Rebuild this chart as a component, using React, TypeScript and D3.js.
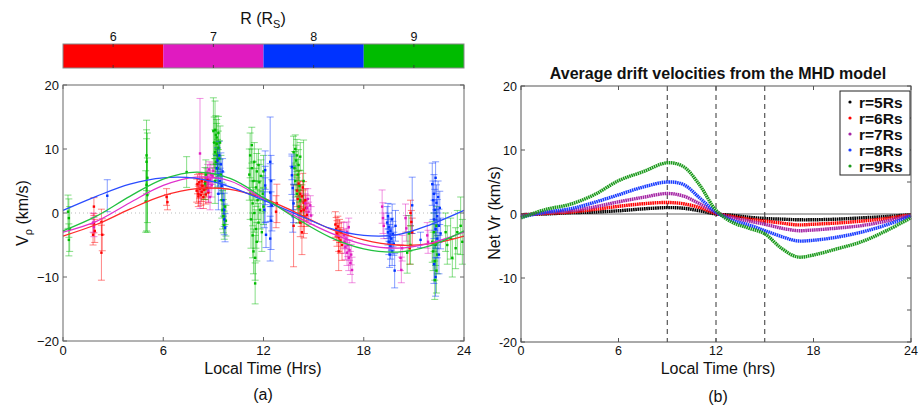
import React from 'react';
import * as d3 from 'd3';

// ---------- Panel (a) data ----------
const R_VALUES = [6, 7, 8, 9];
const R_COLORS = ['#ff0000', '#e01bc0', '#0033ff', '#00bb00'];
const R_FIT_COLORS = ['#ff2a2a', '#e030cc', '#2a4cff', '#22c040'];

const X_TICKS = [0, 6, 12, 18, 24];
const Y_TICKS = [-20, -10, 0, 10, 20];

// fitted curves (every 2 h)
const FIT_T = [0, 2, 4, 6, 8, 10, 12, 14, 16, 18, 20, 22, 24];
const FIT_R6 = [-3.6, -1.8, 0.6, 2.7, 3.8, 3.7, 2.3, 0.0, -2.5, -4.2, -5.0, -4.8, -3.6];
const FIT_R7 = [-3.0, -1.3, 1.6, 4.3, 5.6, 5.0, 2.2, -0.6, -3.1, -4.9, -5.5, -4.7, -3.0];
const FIT_R8 = [0.4, 2.6, 4.5, 5.5, 5.4, 4.1, 2.0, -0.2, -2.4, -3.5, -3.4, -1.8, 0.4];
const FIT_R9 = [-2.8, -0.5, 2.6, 5.3, 6.4, 5.4, 2.4, -0.9, -3.8, -5.6, -6.1, -5.1, -2.8];

// observations: [local time, V, error half-length]
const OBS_R6: [number, number, number][] = [
  [1.85, 1.0, 1.4], [1.85, -1.6, 1.5], [1.9, -2.8, 1.8], [1.8, -3.4, 1.6],
  [2.3, -1.4, 2.0], [2.35, -3.4, 2.5], [2.3, -6.2, 4.3],
  [6.2, 2.5, 1.3], [6.25, 1.7, 1.2],
  [8.0, 3.5, 1.8], [8.05, 4.5, 1.5], [8.1, 3.0, 1.5], [8.1, 2.6, 1.6], [8.15, 4.8, 1.4], [8.2, 3.8, 1.5],
  [8.25, 2.8, 1.6], [8.3, 5.0, 1.2], [8.3, 3.3, 1.5], [8.35, 4.2, 1.3], [8.4, 2.5, 1.8], [8.45, 3.6, 1.5],
  [8.5, 4.8, 1.2], [8.55, 2.9, 1.5], [8.6, 3.9, 1.4], [8.65, 5.2, 1.1], [8.7, 3.2, 1.6],
  [12.8, 1.5, 3.0], [12.75, 0.2, 2.5],
  [13.8, -2.0, 6.4],
  [14.0, 3.5, 2.5], [14.05, 2.2, 2.2], [14.1, 4.6, 2.0], [14.15, 1.0, 2.5], [14.2, 3.0, 2.0], [14.25, 0.3, 2.4],
  [14.3, 2.6, 1.8], [14.35, 4.0, 2.2], [14.4, 1.6, 2.0], [14.45, -0.6, 2.6], [14.5, 2.0, 1.8], [14.55, 0.8, 2.0],
  [14.6, -0.3, 1.8], [14.2, -1.5, 2.2], [14.3, -3.0, 3.5], [14.4, 0.5, 4.4],
  [16.3, -1.8, 2.0], [16.35, -2.5, 1.8], [16.4, -3.2, 2.0], [16.45, -2.1, 1.6], [16.5, -3.8, 2.2],
  [16.55, -2.8, 1.8], [16.6, -4.3, 2.0], [16.65, -3.0, 1.6], [16.7, -5.0, 2.4], [16.5, -6.0, 3.0],
  [20.8, 0.0, 2.0], [20.85, -1.4, 1.8], [20.9, -3.0, 2.2], [20.75, -5.5, 2.5],
];

const OBS_R7: [number, number, number][] = [
  [1.8, -1.5, 1.5], [1.85, -2.2, 1.5],
  [8.2, 9.3, 8.6],
  [8.6, 5.5, 1.5], [8.65, 6.3, 1.3], [8.7, 4.8, 1.6], [8.75, 6.8, 1.2], [8.8, 5.2, 1.4], [8.85, 6.0, 1.5],
  [8.9, 4.3, 1.8], [8.95, 5.8, 1.3], [9.0, 6.6, 1.2], [8.7, 3.5, 1.8], [8.8, 2.5, 2.0],
  [14.5, 1.5, 1.5], [14.6, 0.8, 1.4], [14.65, 2.2, 1.6], [14.7, 0.2, 1.5], [14.8, 1.2, 1.5], [14.85, -0.4, 1.4],
  [16.8, -3.5, 2.0], [16.85, -4.5, 1.8], [16.9, -5.3, 2.0], [16.95, -4.0, 1.6], [17.0, -6.2, 2.0],
  [17.05, -5.0, 1.8], [17.1, -7.0, 2.0], [17.15, -5.8, 1.6], [17.2, -7.8, 1.8], [17.25, -6.5, 1.6],
  [17.3, -8.9, 2.0], [17.0, -3.0, 1.6], [17.1, -2.2, 1.4],
  [19.1, 1.0, 2.6], [19.15, -0.8, 2.4], [19.2, -2.0, 2.0],
  [20.2, -7.0, 2.0], [20.25, -8.9, 2.0], [20.3, -5.5, 2.0],
  [20.5, -0.8, 2.2], [20.55, -2.4, 2.0],
  [21.8, -3.5, 2.0], [21.85, -4.5, 1.8],
];

const OBS_R8: [number, number, number][] = [
  [2.65, 2.7, 2.5],
  [9.2, 7.0, 2.0], [9.25, 8.2, 2.0], [9.3, 6.0, 1.8], [9.35, 9.0, 2.2], [9.4, 5.0, 2.0], [9.45, 7.6, 1.8],
  [9.5, 4.2, 2.2], [9.55, 6.5, 2.0], [9.3, 3.0, 2.5], [9.6, 2.0, 2.5], [9.65, 0.5, 2.6], [9.7, -2.3, 2.2],
  [9.65, -1.0, 2.4],
  [12.1, 6.7, 3.0], [12.1, 2.0, 3.5], [12.15, -3.4, 2.0], [12.05, 0.5, 2.8], [12.1, 4.3, 3.0],
  [12.4, 8.0, 7.0], [12.45, 5.0, 4.0], [12.4, 3.2, 4.5], [12.5, 1.2, 4.0], [12.45, -1.2, 4.5], [12.4, -4.0, 3.5],
  [13.7, 5.9, 3.0], [13.75, 3.9, 3.4], [13.7, 7.2, 2.0], [13.8, 1.5, 3.0], [13.75, -0.5, 2.5],
  [19.4, -1.5, 2.5], [19.45, -3.0, 2.0], [19.5, -2.2, 2.2], [19.5, -4.5, 2.0], [19.55, -3.6, 1.8],
  [19.6, -5.2, 2.0], [19.6, -2.8, 2.0], [19.65, -4.0, 1.8], [19.7, -6.0, 2.2], [19.7, -1.0, 2.4],
  [19.75, -3.3, 2.0], [19.8, -4.8, 1.8], [19.85, -9.0, 2.7], [19.9, -2.0, 2.4], [19.55, -6.5, 2.0],
  [19.45, -0.5, 2.0],
  [20.9, 1.2, 4.4], [21.4, -4.2, 1.2],
  [22.1, 4.5, 3.3], [22.15, 2.0, 3.0], [22.2, -1.0, 3.0], [22.2, 3.0, 3.0], [22.25, 0.5, 3.2],
  [22.3, -2.5, 3.0], [22.3, 5.5, 2.5], [22.35, 1.6, 2.8], [22.4, -4.0, 3.0], [22.4, -0.5, 2.6],
  [22.45, 2.5, 2.5], [22.5, -6.5, 3.0], [22.5, -2.0, 2.6], [22.55, 0.8, 2.6], [22.2, -8.0, 3.0],
  [22.6, -3.2, 2.4], [22.3, -10.0, 3.0],
];

const OBS_R9: [number, number, number][] = [
  [0.3, 0.2, 2.6], [0.35, -0.8, 3.0], [0.4, -2.5, 3.5], [0.35, -4.2, 2.5],
  [5.0, 9.0, 5.5], [5.0, 8.0, 5.0], [5.05, 5.5, 7.0], [5.0, 4.4, 7.2], [5.05, 2.8, 5.8], [4.95, 1.8, 4.8],
  [7.4, 6.4, 2.4], [8.55, 6.0, 2.3], [8.5, 4.6, 2.5],
  [9.0, 12.8, 5.2], [9.05, 11.0, 4.0], [9.1, 13.0, 4.5], [9.1, 9.5, 3.5], [9.15, 12.2, 3.0], [9.15, 8.0, 3.0],
  [9.2, 10.8, 3.2], [9.2, 11.8, 2.8], [9.25, 9.0, 2.5], [9.25, 7.0, 3.0], [9.3, 10.2, 2.6], [9.3, 12.5, 2.6],
  [9.35, 8.5, 2.8], [9.4, 11.0, 2.6], [9.45, 6.0, 3.0], [9.1, 5.0, 3.5],
  [9.5, 2.0, 2.8], [9.55, 0.5, 3.0], [9.6, -0.5, 2.6], [9.65, -1.9, 2.2], [9.7, 1.0, 2.8], [9.75, -1.2, 2.4],
  [11.15, 6.0, 4.0], [11.2, 9.0, 3.5], [11.2, 3.0, 4.0], [11.25, -1.0, 4.5], [11.3, 10.6, 2.8], [11.3, 7.0, 3.0],
  [11.35, 1.5, 3.5], [11.35, -3.5, 3.5], [11.4, 5.0, 3.0], [11.4, -6.0, 3.5], [11.45, 8.0, 3.0], [11.45, 0.0, 3.0],
  [11.5, -7.0, 3.5], [11.5, -11.0, 3.2], [11.55, 4.0, 3.0], [11.55, -2.5, 3.0], [11.6, 6.5, 2.8], [11.6, -4.5, 3.0],
  [11.65, 2.0, 3.0], [11.7, 7.5, 2.5], [11.7, -1.5, 3.0], [11.75, 4.8, 2.8], [11.8, 0.5, 3.0], [11.85, 5.8, 2.5],
  [11.9, -3.0, 3.0], [11.95, 3.0, 2.8], [12.0, 6.5, 2.5], [12.0, 1.0, 2.8],
  [13.8, 9.5, 2.5], [13.85, 7.0, 2.6], [13.9, 10.0, 2.2], [13.9, 5.0, 2.5], [13.95, 8.2, 2.4], [14.0, 3.0, 2.5],
  [14.0, 9.0, 2.5], [14.05, 6.0, 2.4], [14.1, 1.0, 2.6], [14.1, 7.5, 2.4], [14.15, 4.2, 2.5], [14.2, 8.8, 2.2],
  [14.2, 2.0, 2.4], [14.4, 5.0, 6.4],
  [20.6, -6.2, 3.2], [20.8, -5.0, 3.0], [20.7, -3.2, 2.8],
  [22.1, -4.5, 3.2], [22.15, -6.0, 3.0], [22.2, -3.0, 3.0], [22.25, -7.5, 3.0], [22.3, -5.0, 3.2],
  [22.35, -9.0, 3.5], [22.4, -6.5, 3.0], [22.35, -2.0, 3.0], [22.25, -10.5, 3.0],
  [22.9, -3.0, 3.0], [23.0, -5.0, 3.0], [23.2, -4.0, 3.2], [23.3, -7.0, 3.0], [23.5, -5.5, 3.2],
  [23.6, -3.0, 3.4], [23.8, -2.0, 4.5], [23.9, -4.5, 3.5],
];

const OBS = [OBS_R6, OBS_R7, OBS_R8, OBS_R9];
const FITS = [FIT_R6, FIT_R7, FIT_R8, FIT_R9];

// ---------- Panel (b) data ----------
const MHD_T = [0, 1.5, 3, 4.5, 6, 7.5, 9, 10, 11, 12, 13, 14, 15, 16, 17, 18, 19.5, 21, 22.5, 24];
const MHD_R5 = [-0.1, 0.0, 0.2, 0.3, 0.5, 0.8, 1.0, 0.9, 0.5, 0.0, -0.2, -0.5, -0.7, -0.8, -0.9, -0.9, -0.8, -0.6, -0.4, -0.1];
const MHD_R6 = [-0.2, 0.1, 0.3, 0.7, 1.2, 1.6, 1.8, 1.6, 1.0, 0.1, -0.4, -0.8, -1.1, -1.4, -1.7, -1.6, -1.4, -1.1, -0.7, -0.1];
const MHD_R7 = [-0.3, 0.2, 0.5, 1.1, 1.9, 2.6, 3.2, 2.8, 1.6, 0.2, -0.6, -1.1, -1.6, -2.2, -2.6, -2.5, -2.2, -1.8, -1.1, -0.2];
const MHD_R8 = [-0.5, 0.3, 0.8, 1.8, 3.0, 4.2, 5.0, 4.6, 2.5, 0.3, -1.0, -1.7, -2.6, -3.5, -4.2, -4.1, -3.6, -2.8, -1.7, -0.3];
const MHD_R9 = [-0.6, 0.7, 1.5, 3.0, 5.2, 6.6, 8.0, 7.4, 4.5, 0.6, -1.3, -2.2, -3.1, -5.3, -6.7, -6.4, -5.4, -4.3, -2.6, -0.6];
const MHD_SERIES = [MHD_R5, MHD_R6, MHD_R7, MHD_R8, MHD_R9];
const MHD_LABELS = ['r=5Rs', 'r=6Rs', 'r=7Rs', 'r=8Rs', 'r=9Rs'];
const MHD_COLORS = ['#000000', '#ff0000', '#a424a4', '#1a3cff', '#1c9a1c'];
const DASH_T = [9, 12, 15];

const FONT = 'Liberation Sans, Arial, Helvetica, sans-serif';

export default function App() {
  // panel (a)
  const xa = d3.scaleLinear().domain([0, 24]).range([63, 464]);
  const ya = d3.scaleLinear().domain([-20, 20]).range([341, 85]);
  const cb = d3.scaleLinear().domain([5.5, 9.5]).range([63, 464]);
  // panel (b)
  const xb = d3.scaleLinear().domain([0, 24]).range([521, 911]);
  const yb = d3.scaleLinear().domain([-20, 20]).range([342, 86]);

  const fitLine = d3.line<number>().x((_, i) => xa(FIT_T[i])).y((d) => ya(d)).curve(d3.curveCatmullRom);
  const mhdLine = d3.line<number>().x((_, i) => xb(MHD_T[i])).y((d) => yb(d)).curve(d3.curveCatmullRom);

  const drawOrder = [0, 1, 3, 2];
  const axisColor = '#666';

  return (
    <svg width={922} height={406} style={{ position: 'absolute', left: 0, top: 0, background: '#fff' }} fontFamily={FONT}>
      {/* ---------- colorbar ---------- */}
      <text x={263} y={24} fontSize={16} textAnchor="middle" fill="#111">
        R (R<tspan fontSize={11} dy={4}>S</tspan><tspan dy={-4}>)</tspan>
      </text>
      {R_VALUES.map((r, i) => (
        <rect key={'cb' + r} x={cb(r - 0.5)} y={44} width={cb(r + 0.5) - cb(r - 0.5)} height={24} fill={R_COLORS[i]} />
      ))}
      <rect x={63} y={44} width={401} height={24} fill="none" stroke="#888" strokeWidth={1} />
      {R_VALUES.map((r) => (
        <g key={'cbt' + r}>
          <line x1={cb(r)} x2={cb(r)} y1={44} y2={47} stroke="#333" strokeWidth={0.8} />
          <line x1={cb(r)} x2={cb(r)} y1={65} y2={68} stroke="#333" strokeWidth={0.8} />
          <text x={cb(r)} y={41} fontSize={12.5} textAnchor="middle" fill="#111">{r}</text>
        </g>
      ))}

      {/* ---------- panel (a) ---------- */}
      <line x1={xa(0)} x2={xa(24)} y1={ya(0)} y2={ya(0)} stroke="#bbb" strokeWidth={1} strokeDasharray="1,3" />
      {drawOrder.map((gi) => (
        <g key={'obs' + gi} stroke={R_COLORS[gi]}>
          {OBS[gi].map(([t, v, e], k) => (
            <g key={k} strokeOpacity={0.48} strokeWidth={1}>
              <line x1={xa(t)} x2={xa(t)} y1={ya(v - e)} y2={ya(v + e)} />
              <line x1={xa(t) - 3.5} x2={xa(t) + 3.5} y1={ya(v - e)} y2={ya(v - e)} />
              <line x1={xa(t) - 3.5} x2={xa(t) + 3.5} y1={ya(v + e)} y2={ya(v + e)} />
            </g>
          ))}
        </g>
      ))}
      {drawOrder.map((gi) => (
        <g key={'pts' + gi} fill={R_COLORS[gi]}>
          {OBS[gi].map(([t, v], k) => (
            <rect key={k} x={xa(t) - 1.2} y={ya(v) - 1.2} width={2.4} height={2.4} />
          ))}
        </g>
      ))}
      {FITS.map((f, i) => (
        <path key={'fit' + i} d={fitLine(f) || ''} fill="none" stroke={R_FIT_COLORS[i]} strokeWidth={1.3} />
      ))}
      <rect x={63} y={85} width={401} height={256} fill="none" stroke={axisColor} strokeWidth={1} />
      {X_TICKS.map((t) => (
        <g key={'xa' + t}>
          <line x1={xa(t)} x2={xa(t)} y1={341} y2={337} stroke={axisColor} />
          <line x1={xa(t)} x2={xa(t)} y1={85} y2={89} stroke={axisColor} />
          <text x={xa(t)} y={355} fontSize={13} textAnchor="middle" fill="#111">{t}</text>
        </g>
      ))}
      {Y_TICKS.map((v) => (
        <g key={'ya' + v}>
          <line x1={63} x2={67} y1={ya(v)} y2={ya(v)} stroke={axisColor} />
          <line x1={464} x2={460} y1={ya(v)} y2={ya(v)} stroke={axisColor} />
          <text x={59} y={ya(v)} dy="0.36em" fontSize={13} textAnchor="end" fill="#111">
            {v < 0 ? '\u2212' + Math.abs(v) : v}
          </text>
        </g>
      ))}
      <text x={263} y={374} fontSize={16} textAnchor="middle" fill="#111">Local Time (Hrs)</text>
      <text x={263} y={400} fontSize={16} textAnchor="middle" fill="#111">(a)</text>
      <text transform={`translate(28,${213}) rotate(-90)`} fontSize={16} textAnchor="middle" fill="#111">
        V<tspan fontSize={11} dy={4}>ρ</tspan><tspan dy={-4}> (km/s)</tspan>
      </text>

      {/* ---------- panel (b) ---------- */}
      <text x={718} y={79} fontSize={16} fontWeight="bold" textAnchor="middle" fill="#111">
        Average drift velocities from the MHD model
      </text>
      <line x1={xb(0)} x2={xb(24)} y1={yb(0)} y2={yb(0)} stroke="#999" strokeWidth={1.5} />
      {DASH_T.map((t) => (
        <line key={'dash' + t} x1={xb(t)} x2={xb(t)} y1={86} y2={342} stroke="#333" strokeWidth={1} strokeDasharray="5,4" />
      ))}
      {MHD_SERIES.map((s, i) => (
        <path key={'mhd' + i} d={mhdLine(s) || ''} fill="none" stroke={MHD_COLORS[i]} strokeWidth={3.4} strokeDasharray="1.6,0.6" />
      ))}
      <rect x={521} y={86} width={390} height={256} fill="none" stroke="#555" strokeWidth={1} />
      {X_TICKS.map((t) => (
        <g key={'xb' + t}>
          <line x1={xb(t)} x2={xb(t)} y1={342} y2={338} stroke="#555" />
          <line x1={xb(t)} x2={xb(t)} y1={86} y2={90} stroke="#555" />
          <text x={xb(t)} y={355} fontSize={12.5} textAnchor="middle" fill="#111">{t}</text>
        </g>
      ))}
      {d3.range(-20, 21, 5).map((v) => (
        <g key={'yb' + v}>
          {v % 10 === 0 && <line x1={521} x2={525} y1={yb(v)} y2={yb(v)} stroke="#555" />}
          <line x1={911} x2={907} y1={yb(v)} y2={yb(v)} stroke="#555" />
        </g>
      ))}
      {Y_TICKS.map((v) => (
        <text key={'ybl' + v} x={517} y={yb(v)} dy="0.36em" fontSize={12.5} textAnchor="end" fill="#111">{v}</text>
      ))}
      <text x={718} y={374} fontSize={16} textAnchor="middle" fill="#111">Local Time (hrs)</text>
      <text x={718} y={402} fontSize={16} textAnchor="middle" fill="#111">(b)</text>
      <text transform={`translate(500,${213}) rotate(-90)`} fontSize={16} textAnchor="middle" fill="#111">Net Vr (km/s)</text>

      {/* legend */}
      <rect x={840} y={91} width={70} height={84} fill="#fff" stroke="#222" strokeWidth={1} />
      {MHD_LABELS.map((lab, i) => (
        <g key={'leg' + i}>
          <circle cx={850} cy={102 + i * 16} r={1.6} fill={MHD_COLORS[i]} />
          <text x={859} y={102 + i * 16} dy="0.36em" fontSize={15.5} fontWeight="bold" fill="#111">{lab}</text>
        </g>
      ))}
    </svg>
  );
}
